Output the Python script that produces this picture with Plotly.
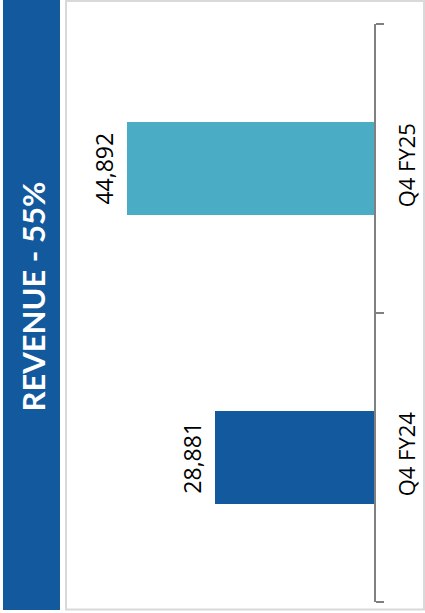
import plotly.graph_objects as go

# Data
categories = ["Q4 FY24", "Q4 FY25"]
values = [28881, 44892]
value_labels = ["28,881", "44,892"]
bar_colors = ["#12599E", "#4BACC6"]
title_text = "REVENUE - 55%"

W, H = 425, 613
L, R, T, B = 66, 51, 24, 11
pw = W - L - R
ph = H - T - B

def px_x(x):
    return (x - L) / pw

def px_y(y):
    return 1 - (y - T) / ph

fig = go.Figure()
fig.add_trace(go.Bar(
    x=values, y=categories, orientation="h",
    marker=dict(color=bar_colors, line=dict(width=0)),
    width=0.32, hoverinfo="skip", showlegend=False,
))

annotations = []
for c, v, lab in zip(categories, values, value_labels):
    annotations.append(dict(
        x=v, y=c, xref="x", yref="y", text=lab, showarrow=False,
        textangle=-90, xanchor="right", yanchor="middle", xshift=-6,
        font=dict(family="Open Sans", size=23, color="#000000"),
    ))

annotations.append(dict(
    x=px_x(32), y=px_y(296.5), xref="paper", yref="paper",
    text="<b>" + title_text + "</b>", showarrow=False, textangle=-90,
    xanchor="center", yanchor="middle",
    font=dict(family="Lato", size=31, color="#ffffff"),
))

shapes = [
    dict(type="rect", xref="paper", yref="paper",
         x0=px_x(3), x1=px_x(60), y0=px_y(610), y1=px_y(0),
         fillcolor="#12599E", line=dict(width=0), layer="below"),
    dict(type="rect", xref="paper", yref="paper",
         x0=px_x(66), x1=px_x(424), y0=px_y(609.5), y1=px_y(1),
         fillcolor="rgba(0,0,0,0)", line=dict(color="#d9d9d9", width=2), layer="below"),
]

fig.update_layout(
    width=W, height=H,
    margin=dict(l=L, r=R, t=T, b=B, pad=0, autoexpand=False),
    paper_bgcolor="#ffffff", plot_bgcolor="#ffffff",
    annotations=annotations, shapes=shapes,
    bargap=0,
    xaxis=dict(range=[56000, 0], visible=False, showgrid=False, zeroline=False,
               fixedrange=True, automargin=False),
    yaxis=dict(
        type="category", categoryorder="array", categoryarray=categories,
        range=[-0.5, 1.5], side="right", showline=True, linecolor="#808080", linewidth=1.5,
        ticks="outside", ticklen=8, tickcolor="#808080", tickwidth=1.5, tickson="boundaries",
        tickangle=-90, showgrid=False, zeroline=False, ticklabelstandoff=13,
        automargin=False,
        tickfont=dict(family="Open Sans", size=22, color="#000000"),
    ),
)

fig.write_html(
    "out.html",
    config={"displayModeBar": False},
    post_script="document.body.style.margin='0';document.body.style.padding='0';",
)
